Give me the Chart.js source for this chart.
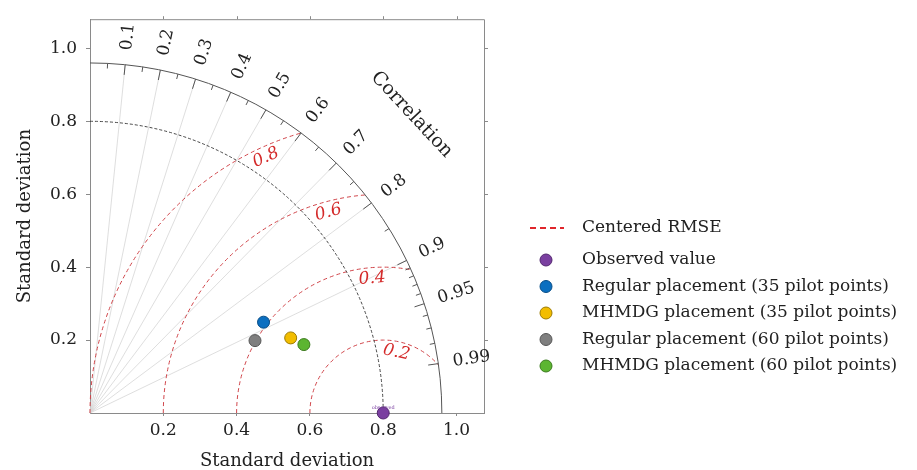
<!DOCTYPE html>
<html>
<head>
<meta charset="utf-8">
<title>Taylor diagram</title>
<script src="https://cdn.jsdelivr.net/npm/chart.js@4.4.1/dist/chart.umd.min.js"></script>
<style>
  body { margin: 0; background: #fff; }
  #wrap { width: 917px; height: 470px; }
</style>
</head>
<body>
<div id="wrap"><canvas id="taylorChart" width="917" height="470"></canvas></div>
<script>
// series: standard deviation and correlation of each run
const seriesNames = [
  "Observed value",
  "Regular placement (35 pilot points)",
  "MHMDG placement (35 pilot points)",
  "Regular placement (60 pilot points)",
  "MHMDG placement (60 pilot points)"
];
const stdDevs = [0.80, 0.535, 0.585, 0.492, 0.613];
const correlations = [1.0, 0.885, 0.936, 0.915, 0.952];

// grid of the diagram
const corrLabels = [0.1, 0.2, 0.3, 0.4, 0.5, 0.6, 0.7, 0.8, 0.9, 0.95, 0.99];
const corrMinor = [0.05, 0.15, 0.25, 0.35, 0.45, 0.55, 0.65, 0.75, 0.85, 0.91, 0.92, 0.93, 0.94, 0.96, 0.97, 0.98];
const rmseLevels = [0.2, 0.4, 0.6, 0.8];
const stdTicks = [0.2, 0.4, 0.6, 0.8, 1.0];
const refStd = 0.8;
const maxStd = 0.96;

const fillColors = ["#7a3fa0", "#0b6fc0", "#f2bd00", "#7f7f7f", "#5cb531"];
const edgeColors = ["#52266f", "#064c86", "#9c7a00", "#555555", "#3b7a1d"];
const FONT = "'DejaVu Serif', serif";

const taylorGrid = {
  id: "taylorGrid",
  beforeDatasetsDraw(chart) {
    const { ctx, chartArea, scales: { x, y } } = chart;
    const X = (v) => x.getPixelForValue(v);
    const Y = (v) => y.getPixelForValue(v);

    function arc(cx, r, a0, a1) {
      ctx.beginPath();
      ctx.ellipse(X(cx), Y(0), X(r) - X(0), Y(0) - Y(r), 0, -a0, -a1, false);
      ctx.stroke();
    }

    ctx.save();

    // top and right frame with their ticks
    ctx.strokeStyle = "#8a8a8a";
    ctx.lineWidth = 1;
    ctx.beginPath();
    ctx.moveTo(chartArea.left, chartArea.top + 0.5);
    ctx.lineTo(chartArea.right + 0.5, chartArea.top + 0.5);
    ctx.lineTo(chartArea.right + 0.5, chartArea.bottom);
    ctx.stroke();
    stdTicks.forEach((v) => {
      ctx.beginPath();
      ctx.moveTo(Math.round(X(v)) + 0.5, chartArea.top);
      ctx.lineTo(Math.round(X(v)) + 0.5, chartArea.top - 3);
      ctx.moveTo(chartArea.right, Math.round(Y(v)) + 0.5);
      ctx.lineTo(chartArea.right + 4, Math.round(Y(v)) + 0.5);
      ctx.stroke();
    });

    // correlation rays
    ctx.strokeStyle = "#d6d6d6";
    ctx.lineWidth = 0.8;
    corrLabels.slice(0, 9).forEach((c) => {
      const t = Math.acos(c);
      ctx.beginPath();
      ctx.moveTo(X(0), Y(0));
      ctx.lineTo(X(maxStd * Math.cos(t)), Y(maxStd * Math.sin(t)));
      ctx.stroke();
    });

    // centered RMSE arcs around the observed point
    ctx.strokeStyle = "#d0454a";
    ctx.lineWidth = 1;
    ctx.setLineDash([4, 3]);
    rmseLevels.forEach((e) => {
      const xi = (maxStd * maxStd + refStd * refStd - e * e) / (2 * refStd);
      const yi = Math.sqrt(maxStd * maxStd - xi * xi);
      arc(refStd, e, Math.PI, Math.atan2(yi, xi - refStd));
    });

    // observed standard deviation arc
    ctx.strokeStyle = "#333";
    ctx.lineWidth = 0.9;
    ctx.setLineDash([3, 2]);
    arc(0, refStd, Math.PI / 2, 0);

    // outer arc
    ctx.setLineDash([]);
    ctx.strokeStyle = "#555";
    ctx.lineWidth = 1;
    arc(0, maxStd, Math.PI / 2, 0);

    // ticks on the outer arc
    function tick(c, len) {
      const t = Math.acos(c);
      ctx.beginPath();
      ctx.moveTo(X(maxStd * Math.cos(t)), Y(maxStd * Math.sin(t)));
      ctx.lineTo(X((maxStd - len) * Math.cos(t)), Y((maxStd - len) * Math.sin(t)));
      ctx.stroke();
    }
    corrLabels.forEach((c) => tick(c, 0.028));
    corrMinor.forEach((c) => tick(c, 0.014));

    // correlation labels, along the rays
    ctx.font = "17px " + FONT;
    ctx.fillStyle = "#222";
    ctx.textAlign = "left";
    ctx.textBaseline = "middle";
    corrLabels.forEach((c) => {
      const t = Math.acos(c);
      const r = maxStd + 0.04;
      ctx.save();
      ctx.translate(X(r * Math.cos(t)), Y(r * Math.sin(t)));
      ctx.rotate(-t);
      ctx.fillText(String(c), 0, 0);
      ctx.restore();
    });

    // "Correlation" title following the arc
    const ta = 43 * Math.PI / 180;
    ctx.save();
    ctx.font = "19px " + FONT;
    ctx.textAlign = "center";
    ctx.translate(X(1.2 * Math.cos(ta)), Y(1.2 * Math.sin(ta)));
    ctx.rotate(Math.PI / 2 - ta);
    ctx.fillText("Correlation", 0, 0);
    ctx.restore();

    // RMSE labels
    ctx.font = "italic 17px " + FONT;
    ctx.fillStyle = "#d42a2a";
    ctx.textAlign = "center";
    const labelR = 0.865;
    rmseLevels.forEach((e) => {
      const xl = (labelR * labelR + refStd * refStd - e * e) / (2 * refStd);
      const yl = Math.sqrt(labelR * labelR - xl * xl);
      const phi = Math.atan2(yl, xl - refStd);
      const rr = e - 0.03;
      ctx.save();
      ctx.translate(X(refStd + rr * Math.cos(phi)), Y(rr * Math.sin(phi)));
      ctx.rotate(Math.PI / 2 - phi);
      ctx.fillText(e.toFixed(1), 0, 0);
      ctx.restore();
    });

    ctx.restore();
  },
  afterDatasetsDraw(chart) {
    const { ctx, scales: { x, y } } = chart;
    ctx.save();
    ctx.font = "5px " + FONT;
    ctx.fillStyle = "#7a3fa0";
    ctx.textAlign = "center";
    ctx.textBaseline = "bottom";
    ctx.fillText("observed", x.getPixelForValue(refStd), y.getPixelForValue(0) - 3);
    ctx.restore();
  },
  afterDraw(chart) {
    const ctx = chart.ctx;
    const mx = 546;
    const tx = 582;
    ctx.save();
    ctx.strokeStyle = "#e0262b";
    ctx.lineWidth = 2;
    ctx.setLineDash([6, 4]);
    ctx.beginPath();
    ctx.moveTo(530, 228);
    ctx.lineTo(564, 228);
    ctx.stroke();
    ctx.setLineDash([]);
    ctx.font = "17px " + FONT;
    ctx.fillStyle = "#222";
    ctx.textAlign = "left";
    ctx.textBaseline = "middle";
    ctx.fillText("Centered RMSE", tx, 228);
    chart.data.datasets.forEach((ds, i) => {
      const ry = 260 + i * 26.5;
      ctx.beginPath();
      ctx.arc(mx, ry, 6, 0, Math.PI * 2);
      ctx.fillStyle = ds.backgroundColor;
      ctx.fill();
      ctx.strokeStyle = ds.borderColor;
      ctx.lineWidth = 1;
      ctx.stroke();
      ctx.fillStyle = "#222";
      ctx.fillText(ds.label, tx, ry);
    });
    ctx.restore();
  }
};

const datasets = seriesNames.map((name, i) => ({
  label: name,
  data: [{
    x: stdDevs[i] * correlations[i],
    y: stdDevs[i] * Math.sqrt(1 - correlations[i] * correlations[i])
  }],
  backgroundColor: fillColors[i],
  borderColor: edgeColors[i],
  borderWidth: 1,
  pointRadius: 6,
  clip: false
}));

new Chart(document.getElementById("taylorChart"), {
  type: "scatter",
  data: { datasets },
  plugins: [taylorGrid],
  options: {
    responsive: false,
    devicePixelRatio: 1,
    animation: false,
    layout: { padding: { left: 0, right: 433, top: 17, bottom: 0 } },
    plugins: {
      legend: { display: false },
      tooltip: { enabled: false }
    },
    scales: {
      x: {
        type: "linear",
        min: 0,
        max: 1.075,
        afterBuildTicks: (s) => { s.ticks = stdTicks.map((v) => ({ value: v })); },
        afterFit: (s) => { s.height = 57; },
        grid: { drawOnChartArea: false, tickLength: 3, color: "#8a8a8a" },
        border: { color: "#8a8a8a" },
        ticks: {
          font: { family: FONT, size: 17 },
          color: "#222",
          padding: 4,
          maxRotation: 0,
          callback: (v) => v.toFixed(1)
        },
        title: {
          display: true,
          text: "Standard deviation",
          font: { family: FONT, size: 18, lineHeight: 1 },
          color: "#222",
          padding: { top: 0, bottom: 0 }
        }
      },
      y: {
        type: "linear",
        min: 0,
        max: 1.08,
        afterBuildTicks: (s) => { s.ticks = stdTicks.map((v) => ({ value: v })); },
        afterFit: (s) => { s.width = 90; },
        grid: { drawOnChartArea: false, tickLength: 4, color: "#8a8a8a" },
        border: { color: "#8a8a8a" },
        ticks: {
          font: { family: FONT, size: 17 },
          color: "#222",
          padding: 9,
          callback: (v) => v.toFixed(1)
        },
        title: {
          display: true,
          text: "Standard deviation",
          font: { family: FONT, size: 18, lineHeight: 1 },
          color: "#222",
          padding: { top: 16, bottom: 0 }
        }
      }
    }
  }
});
</script>
</body>
</html>
